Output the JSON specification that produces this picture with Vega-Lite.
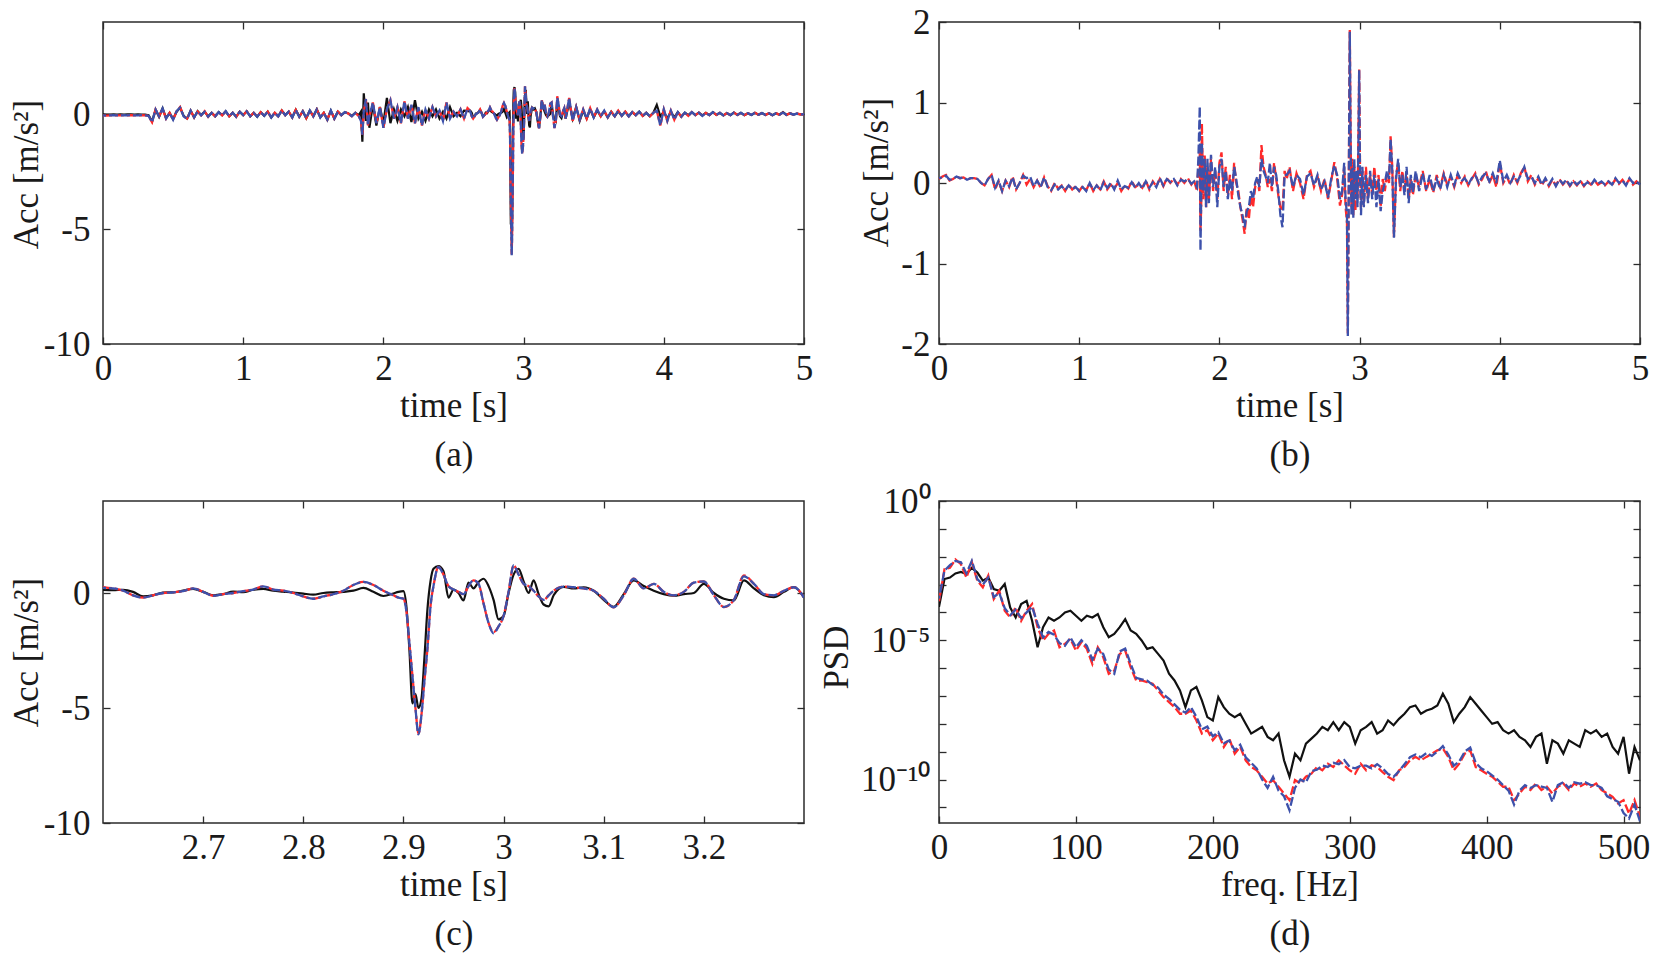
{
"$schema": "https://vega.github.io/schema/vega-lite/v6.json",
"padding": {"left": 8, "top": 4, "right": 5, "bottom": 5},
"config": {
 "font": "Liberation Serif",
 "view": {"stroke": "#2b2b2b", "strokeWidth": 1.5},
 "axis": {"labelFont": "Liberation Serif", "titleFont": "Liberation Serif", "labelFontSize": 35, "titleFontSize": 35, "titleFontWeight": "normal", "labelColor": "#1a1a1a", "titleColor": "#1a1a1a", "domain": false, "grid": false, "ticks": true, "tickSize": -7, "tickColor": "#2b2b2b", "tickWidth": 1.3, "labelFlush": false, "labelOverlap": false, "labelBound": false},
 "axisX": {"labelPadding": 14, "titlePadding": 2, "titleLineHeight": 49},
 "axisY": {"labelPadding": 16, "titlePadding": 6}
},
"datasets": {
"acc": [
{"t":0,"k":-0.02,"r":-0.06,"b":-0.06},{"t":0.025,"k":-0.03,"r":-0.07,"b":-0.07},{"t":0.05,"k":-0.03,"r":-0.06,"b":-0.06},{"t":0.075,"k":-0.02,"r":-0.05,"b":-0.05},{"t":0.1,"k":-0.03,"r":-0.06,"b":-0.06},{"t":0.125,"k":-0.02,"r":-0.06,"b":-0.06},{"t":0.15,"k":-0.03,"r":-0.05,"b":-0.05},{"t":0.175,"k":-0.02,"r":-0.06,"b":-0.06},{"t":0.2,"k":-0.02,"r":-0.05,"b":-0.05},{"t":0.225,"k":-0.03,"r":-0.06,"b":-0.06},{"t":0.25,"k":-0.02,"r":-0.06,"b":-0.06},{"t":0.275,"k":-0.03,"r":-0.05,"b":-0.05},{"t":0.3,"k":-0.03,"r":-0.06,"b":-0.06},{"t":0.325,"k":-0.05,"r":-0.08,"b":-0.08},
{"t":0.35,"k":-0.32,"r":-0.36,"b":-0.36},{"t":0.375,"k":0.18,"r":0.2,"b":0.2},{"t":0.4,"k":-0.12,"r":-0.1,"b":-0.1},{"t":0.425,"k":0.25,"r":0.22,"b":0.24},{"t":0.45,"k":-0.18,"r":-0.2,"b":-0.2},{"t":0.475,"k":0.05,"r":0.05,"b":0.05},{"t":0.5,"k":-0.22,"r":-0.25,"b":-0.25},{"t":0.525,"k":0.1,"r":0.12,"b":0.12},{"t":0.55,"k":0.28,"r":0.3,"b":0.28},{"t":0.575,"k":-0.08,"r":-0.1,"b":-0.1},{"t":0.6,"k":-0.2,"r":-0.2,"b":-0.22},{"t":0.625,"k":0.15,"r":0.14,"b":0.14},{"t":0.65,"k":-0.15,"r":-0.15,"b":-0.15},{"t":0.675,"k":0.12,"r":0.1,"b":0.12},{"t":0.7,"k":-0.05,"r":-0.06,"b":-0.06},{"t":0.725,"k":0.1,"r":0.12,"b":0.1},{"t":0.75,"k":-0.1,"r":-0.12,"b":-0.12},{"t":0.775,"k":0.05,"r":0.05,"b":0.05},{"t":0.8,"k":-0.1,"r":-0.1,"b":-0.1},{"t":0.825,"k":0.08,"r":0.08,"b":0.08},{"t":0.85,"k":-0.05,"r":-0.06,"b":-0.06},{"t":0.875,"k":0.12,"r":0.12,"b":0.12},{"t":0.9,"k":-0.1,"r":-0.1,"b":-0.1},{"t":0.925,"k":0.05,"r":0.06,"b":0.06},{"t":0.95,"k":-0.12,"r":-0.12,"b":-0.12},{"t":0.975,"k":0.1,"r":0.1,"b":0.1},
{"t":1,"k":-0.05,"r":-0.05,"b":-0.05},{"t":1.025,"k":0.12,"r":0.12,"b":0.12},{"t":1.05,"k":-0.1,"r":-0.1,"b":-0.1},{"t":1.075,"k":0.05,"r":0.05,"b":0.05},{"t":1.1,"k":-0.12,"r":-0.12,"b":-0.12},{"t":1.125,"k":0.08,"r":0.08,"b":0.08},{"t":1.15,"k":-0.08,"r":-0.08,"b":-0.08},{"t":1.175,"k":0.1,"r":0.1,"b":0.1},{"t":1.2,"k":-0.15,"r":-0.15,"b":-0.15},{"t":1.225,"k":0.05,"r":0.05,"b":0.05},{"t":1.25,"k":-0.1,"r":-0.1,"b":-0.1},{"t":1.275,"k":0.15,"r":0.15,"b":0.15},{"t":1.3,"k":-0.05,"r":-0.05,"b":-0.05},{"t":1.325,"k":0.1,"r":0.1,"b":0.1},{"t":1.35,"k":-0.15,"r":-0.15,"b":-0.15},{"t":1.375,"k":0.18,"r":0.18,"b":0.18},{"t":1.4,"k":-0.12,"r":-0.12,"b":-0.12},{"t":1.425,"k":0.12,"r":0.12,"b":0.12},{"t":1.45,"k":-0.18,"r":-0.18,"b":-0.18},{"t":1.475,"k":0.15,"r":0.15,"b":0.15},{"t":1.5,"k":-0.1,"r":-0.1,"b":-0.1},{"t":1.525,"k":0.2,"r":0.2,"b":0.2},{"t":1.55,"k":-0.15,"r":-0.15,"b":-0.15},{"t":1.575,"k":0.05,"r":0.05,"b":0.05},{"t":1.6,"k":-0.25,"r":-0.25,"b":-0.25},{"t":1.625,"k":0.15,"r":0.15,"b":0.15},{"t":1.65,"k":-0.2,"r":-0.2,"b":-0.2},{"t":1.675,"k":0.1,"r":0.1,"b":0.1},{"t":1.7,"k":-0.05,"r":-0.05,"b":-0.05},{"t":1.725,"k":0.08,"r":0.08,"b":0.08},{"t":1.75,"k":0.02,"r":0.02,"b":0.02},{"t":1.775,"k":-0.08,"r":-0.1,"b":-0.1},{"t":1.8,"k":0.05,"r":0.05,"b":0.05},{"t":1.825,"k":-0.05,"r":-0.1,"b":-0.1},
{"t":1.84,"k":0.1,"r":-0.3,"b":-0.3},{"t":1.85,"k":-1.2,"r":-0.9,"b":-0.9},{"t":1.86,"k":0.9,"r":0.1,"b":0.1},{"t":1.875,"k":-0.3,"r":0.65,"b":0.65},{"t":1.89,"k":0.5,"r":-0.5,"b":-0.5},{"t":1.9,"k":-0.6,"r":-0.1,"b":-0.1},{"t":1.925,"k":0.4,"r":0.5,"b":0.5},{"t":1.95,"k":-0.5,"r":-0.4,"b":-0.4},{"t":1.975,"k":0.3,"r":0.3,"b":0.3},{"t":2,"k":-0.4,"r":-0.6,"b":-0.6},{"t":2.025,"k":0.7,"r":0.2,"b":0.2},{"t":2.05,"k":-0.4,"r":0.6,"b":0.6},{"t":2.075,"k":0.2,"r":-0.2,"b":-0.2},{"t":2.1,"k":-0.3,"r":0.3,"b":0.3},{"t":2.125,"k":0.2,"r":-0.4,"b":-0.4},{"t":2.15,"k":-0.1,"r":0.55,"b":0.55},{"t":2.175,"k":0.3,"r":-0.2,"b":-0.2},{"t":2.2,"k":-0.35,"r":0.4,"b":0.4},{"t":2.225,"k":0.6,"r":-0.4,"b":-0.4},{"t":2.25,"k":-0.2,"r":0.3,"b":0.3},{"t":2.275,"k":0.1,"r":-0.5,"b":-0.5},{"t":2.3,"k":-0.3,"r":0.2,"b":0.2},{"t":2.325,"k":0.2,"r":-0.2,"b":-0.2},{"t":2.35,"k":-0.1,"r":0.3,"b":0.3},{"t":2.375,"k":0.2,"r":-0.1,"b":-0.1},{"t":2.4,"k":-0.2,"r":0.15,"b":0.15},{"t":2.425,"k":0.1,"r":-0.3,"b":-0.3},{"t":2.45,"k":-0.2,"r":0.5,"b":0.5},{"t":2.475,"k":0.3,"r":-0.2,"b":-0.2},{"t":2.5,"k":-0.1,"r":0.1,"b":0.1},{"t":2.525,"k":0.05,"r":-0.1,"b":-0.1},{"t":2.55,"k":-0.1,"r":0.2,"b":0.2},{"t":2.575,"k":0.15,"r":-0.2,"b":-0.2},
{"t":2.6,"k":0.14,"r":0.26,"b":0.22},{"t":2.61,"k":0.12,"r":0.2,"b":0.2},{"t":2.62,"k":0.14,"r":0.1,"b":0.1},{"t":2.63,"k":0.05,"r":-0.1,"b":-0.1},{"t":2.64,"k":-0.15,"r":-0.2,"b":-0.2},{"t":2.65,"k":-0.1,"r":-0.1,"b":-0.1},{"t":2.66,"k":0.02,"r":0,"b":0},{"t":2.67,"k":0.03,"r":0.03,"b":0.03},{"t":2.68,"k":0.1,"r":0.08,"b":0.08},{"t":2.69,"k":0.18,"r":0.2,"b":0.2},{"t":2.7,"k":0.05,"r":0.05,"b":0.05},{"t":2.71,"k":-0.1,"r":-0.12,"b":-0.12},{"t":2.72,"k":-0.05,"r":-0.05,"b":-0.05},{"t":2.73,"k":0.06,"r":0,"b":0},{"t":2.74,"k":0.04,"r":0.08,"b":0.08},{"t":2.75,"k":0.14,"r":0.15,"b":0.15},{"t":2.76,"k":0.18,"r":0.29,"b":0.29},{"t":2.77,"k":0.1,"r":0.15,"b":0.15},{"t":2.78,"k":0.06,"r":0.1,"b":0.1},{"t":2.79,"k":0.02,"r":0,"b":0},{"t":2.8,"k":-0.03,"r":-0.15,"b":-0.15},{"t":2.81,"k":-0.07,"r":-0.25,"b":-0.25},{"t":2.82,"k":0,"r":-0.15,"b":-0.15},{"t":2.83,"k":0.03,"r":-0.05,"b":-0.05},{"t":2.84,"k":0.05,"r":0.1,"b":0.1},{"t":2.85,"k":0.1,"r":0.35,"b":0.35},{"t":2.86,"k":0.22,"r":0.48,"b":0.48},{"t":2.87,"k":0.05,"r":0.35,"b":0.35},{"t":2.88,"k":-0.13,"r":0.1,"b":0.1},{"t":2.89,"k":-0.02,"r":-0.1,"b":-0.1},{"t":2.895,"k":0.05,"r":-0.2,"b":-0.2},{"t":2.9,"k":0.08,"r":-0.25,"b":-0.25},{"t":2.903,"k":-0.6,"r":-0.8,"b":-0.8},{"t":2.906,"k":-2.5,"r":-2.2,"b":-2.2},{"t":2.909,"k":-4.8,"r":-3.6,"b":-3.6},{"t":2.912,"k":-4.4,"r":-5,"b":-5},{"t":2.915,"k":-5,"r":-6.1,"b":-6.15},{"t":2.918,"k":-4.6,"r":-5.3,"b":-5.3},{"t":2.921,"k":-2.8,"r":-3.8,"b":-3.8},{"t":2.924,"k":-0.7,"r":-2.4,"b":-2.4},{"t":2.927,"k":0.5,"r":-0.6,"b":-0.6},{"t":2.93,"k":1.05,"r":0.3,"b":0.3},{"t":2.935,"k":1.17,"r":1.13,"b":1.13},{"t":2.94,"k":0.95,"r":0.8,"b":0.8},{"t":2.945,"k":-0.2,"r":0.3,"b":0.3},{"t":2.95,"k":0.15,"r":0.15,"b":0.15},{"t":2.955,"k":0,"r":0.05,"b":0.05},{"t":2.96,"k":-0.32,"r":-0.05,"b":-0.05},{"t":2.965,"k":0.45,"r":0.3,"b":0.3},{"t":2.97,"k":0.2,"r":0.55,"b":0.55},{"t":2.975,"k":0.48,"r":0.4,"b":0.4},{"t":2.98,"k":0.62,"r":-0.45,"b":-0.45},{"t":2.985,"k":0.3,"r":-1.3,"b":-1.3},{"t":2.99,"k":-0.3,"r":-1.7,"b":-1.75},{"t":2.995,"k":-1.15,"r":-1.45,"b":-1.45},{"t":3,"k":-1,"r":-1,"b":-1},{"t":3.005,"k":0,"r":0.05,"b":0.05},{"t":3.01,"k":0.8,"r":1.2,"b":1.2},{"t":3.015,"k":1.05,"r":0.8,"b":0.8},{"t":3.02,"k":0.5,"r":0.4,"b":0.4},{"t":3.025,"k":0,"r":0.3,"b":0.3},{"t":3.03,"k":0.55,"r":0.1,"b":0.1},{"t":3.035,"k":-0.05,"r":-0.15,"b":-0.15},{"t":3.04,"k":-0.5,"r":-0.3,"b":-0.3},{"t":3.045,"k":-0.58,"r":-0.1,"b":-0.1},{"t":3.05,"k":-0.1,"r":0.1,"b":0.1},{"t":3.06,"k":0.27,"r":0.28,"b":0.28},{"t":3.07,"k":0.2,"r":0.25,"b":0.25},{"t":3.08,"k":0.25,"r":0.2,"b":0.2},{"t":3.09,"k":0.1,"r":0.1,"b":0.1},{"t":3.1,"k":-0.3,"r":-0.25,"b":-0.25},{"t":3.11,"k":-0.6,"r":-0.62,"b":-0.62},{"t":3.12,"k":-0.05,"r":-0.1,"b":-0.1},{"t":3.13,"k":0.55,"r":0.62,"b":0.62},{"t":3.14,"k":0.3,"r":0.2,"b":0.2},{"t":3.15,"k":0.1,"r":0.4,"b":0.4},{"t":3.16,"k":-0.05,"r":0.05,"b":0.05},{"t":3.17,"k":-0.12,"r":-0.1,"b":-0.1},{"t":3.18,"k":-0.05,"r":0.05,"b":0.05},{"t":3.19,"k":0,"r":0.45,"b":0.45},{"t":3.2,"k":0.4,"r":0.5,"b":0.5},{"t":3.21,"k":0,"r":-0.1,"b":-0.1},{"t":3.22,"k":-0.25,"r":-0.61,"b":-0.61},{"t":3.23,"k":-0.32,"r":-0.3,"b":-0.3},{"t":3.24,"k":0.55,"r":0.77,"b":0.72},{"t":3.25,"k":0.2,"r":0.4,"b":0.4},{"t":3.26,"k":-0.1,"r":-0.05,"b":-0.05},{"t":3.27,"k":-0.18,"r":-0.1,"b":-0.1},{"t":3.28,"k":0.05,"r":0.1,"b":0.1},{"t":3.29,"k":0.26,"r":0.25,"b":0.25},{"t":3.3,"k":-0.2,"r":-0.2,"b":-0.2},
{"t":3.325,"k":0.5,"r":0.7,"b":0.7},{"t":3.35,"k":-0.2,"r":-0.3,"b":-0.3},{"t":3.375,"k":0.3,"r":0.3,"b":0.3},{"t":3.4,"k":-0.3,"r":-0.25,"b":-0.25},{"t":3.425,"k":0.15,"r":0.2,"b":0.2},{"t":3.45,"k":-0.2,"r":-0.2,"b":-0.2},{"t":3.475,"k":0.2,"r":0.25,"b":0.25},{"t":3.5,"k":-0.15,"r":-0.15,"b":-0.15},{"t":3.525,"k":0.15,"r":0.2,"b":0.2},{"t":3.55,"k":-0.1,"r":-0.1,"b":-0.1},{"t":3.575,"k":0.12,"r":0.15,"b":0.15},{"t":3.6,"k":-0.15,"r":-0.15,"b":-0.15},{"t":3.625,"k":0.1,"r":0.1,"b":0.1},{"t":3.65,"k":-0.1,"r":-0.1,"b":-0.1},{"t":3.675,"k":0.12,"r":0.15,"b":0.15},{"t":3.7,"k":-0.08,"r":-0.08,"b":-0.08},{"t":3.725,"k":0.1,"r":0.1,"b":0.1},{"t":3.75,"k":-0.1,"r":-0.1,"b":-0.1},{"t":3.775,"k":0.08,"r":0.08,"b":0.08},{"t":3.8,"k":-0.05,"r":-0.05,"b":-0.05},{"t":3.825,"k":0.1,"r":0.1,"b":0.1},{"t":3.85,"k":-0.08,"r":-0.08,"b":-0.08},{"t":3.875,"k":0.05,"r":0.05,"b":0.05},{"t":3.9,"k":-0.1,"r":-0.1,"b":-0.1},{"t":3.925,"k":0.05,"r":0.05,"b":0.05},{"t":3.95,"k":0.4,"r":0.15,"b":0.15},{"t":3.975,"k":-0.1,"r":-0.5,"b":-0.5},{"t":4,"k":0.1,"r":0.2,"b":0.2},{"t":4.025,"k":-0.2,"r":-0.3,"b":-0.3},{"t":4.05,"k":0.1,"r":0.15,"b":0.15},{"t":4.075,"k":-0.15,"r":-0.25,"b":-0.25},{"t":4.1,"k":0.08,"r":0.08,"b":0.08},{"t":4.125,"k":-0.12,"r":-0.12,"b":-0.12},{"t":4.15,"k":0.06,"r":0.06,"b":0.06},{"t":4.175,"k":-0.05,"r":-0.08,"b":-0.08},{"t":4.2,"k":0.08,"r":0.08,"b":0.08},{"t":4.225,"k":-0.05,"r":-0.05,"b":-0.05},{"t":4.25,"k":0.06,"r":0.06,"b":0.06},{"t":4.275,"k":-0.06,"r":-0.08,"b":-0.08},{"t":4.3,"k":0.05,"r":0.05,"b":0.05},{"t":4.325,"k":-0.05,"r":-0.05,"b":-0.05},{"t":4.35,"k":0.08,"r":0.08,"b":0.08},{"t":4.375,"k":-0.04,"r":-0.04,"b":-0.04},{"t":4.4,"k":0.05,"r":0.05,"b":0.05},{"t":4.425,"k":-0.06,"r":-0.06,"b":-0.06},{"t":4.45,"k":0.04,"r":0.04,"b":0.04},{"t":4.475,"k":-0.05,"r":-0.05,"b":-0.05},{"t":4.5,"k":0.06,"r":0.06,"b":0.06},{"t":4.525,"k":-0.04,"r":-0.04,"b":-0.04},{"t":4.55,"k":0.05,"r":0.05,"b":0.05},{"t":4.575,"k":-0.05,"r":-0.05,"b":-0.05},{"t":4.6,"k":0.03,"r":0.03,"b":0.03},{"t":4.625,"k":-0.04,"r":-0.04,"b":-0.04},{"t":4.65,"k":0.05,"r":0.05,"b":0.05},{"t":4.675,"k":-0.03,"r":-0.03,"b":-0.03},{"t":4.7,"k":0.04,"r":0.04,"b":0.04},{"t":4.725,"k":-0.04,"r":-0.04,"b":-0.04},{"t":4.75,"k":0.03,"r":0.03,"b":0.03},{"t":4.775,"k":-0.05,"r":-0.05,"b":-0.05},{"t":4.8,"k":0.03,"r":0.03,"b":0.03},{"t":4.825,"k":-0.03,"r":-0.03,"b":-0.03},{"t":4.85,"k":0.08,"r":0.06,"b":0.06},{"t":4.875,"k":-0.04,"r":-0.04,"b":-0.04},{"t":4.9,"k":0.03,"r":0.03,"b":0.03},{"t":4.925,"k":-0.03,"r":-0.03,"b":-0.03},{"t":4.95,"k":0.02,"r":0.02,"b":0.02},{"t":4.975,"k":-0.02,"r":-0.02,"b":-0.02},{"t":5,"k":-0.01,"r":-0.01,"b":-0.01}
],
"accb": [
{"t":0,"r":0.05,"b":0.06},{"t":0.025,"r":0.08,"b":0.07},{"t":0.05,"r":0.1,"b":0.09},{"t":0.075,"r":0.03,"b":0.04},{"t":0.1,"r":0.05,"b":0.05},{"t":0.125,"r":0.08,"b":0.08},{"t":0.15,"r":0.06,"b":0.06},{"t":0.175,"r":0.07,"b":0.07},{"t":0.2,"r":0.04,"b":0.04},{"t":0.225,"r":0.06,"b":0.06},{"t":0.25,"r":0.06,"b":0.06},{"t":0.275,"r":0.05,"b":0.05},{"t":0.3,"r":0,"b":0},{"t":0.325,"r":-0.03,"b":-0.03},{"t":0.35,"r":0.05,"b":0.05},{"t":0.375,"r":0.1,"b":0.1},{"t":0.4,"r":-0.08,"b":-0.06},{"t":0.425,"r":0.02,"b":0.03},{"t":0.45,"r":-0.1,"b":-0.1},{"t":0.475,"r":0.03,"b":0.03},{"t":0.5,"r":-0.05,"b":-0.04},{"t":0.525,"r":0.08,"b":0.07},{"t":0.55,"r":-0.08,"b":-0.08},{"t":0.575,"r":0,"b":0},{"t":0.6,"r":0.1,"b":0.09},{"t":0.625,"r":-0.02,"b":0.06},{"t":0.65,"r":0.05,"b":0.08},{"t":0.675,"r":-0.05,"b":-0.04},{"t":0.7,"r":0.03,"b":0.03},{"t":0.725,"r":-0.06,"b":-0.05},{"t":0.75,"r":0.07,"b":0.07},{"t":0.775,"r":-0.04,"b":-0.05},{"t":0.8,"r":-0.1,"b":-0.09},{"t":0.825,"r":0,"b":-0.02},{"t":0.85,"r":-0.07,"b":-0.08},{"t":0.875,"r":-0.03,"b":-0.04},{"t":0.9,"r":-0.1,"b":-0.09},{"t":0.925,"r":-0.02,"b":-0.03},{"t":0.95,"r":-0.08,"b":-0.08},{"t":0.975,"r":-0.04,"b":-0.05},
{"t":1,"r":-0.1,"b":-0.1},{"t":1.025,"r":-0.04,"b":-0.05},{"t":1.05,"r":-0.09,"b":-0.1},{"t":1.075,"r":0,"b":0},{"t":1.1,"r":-0.1,"b":-0.09},{"t":1.125,"r":-0.03,"b":-0.03},{"t":1.15,"r":-0.08,"b":-0.09},{"t":1.175,"r":0.02,"b":0.01},{"t":1.2,"r":-0.08,"b":-0.06},{"t":1.225,"r":-0.02,"b":0},{"t":1.25,"r":-0.07,"b":-0.08},{"t":1.275,"r":0,"b":0.03},{"t":1.3,"r":-0.1,"b":-0.08},{"t":1.325,"r":-0.03,"b":-0.04},{"t":1.35,"r":-0.07,"b":-0.06},{"t":1.375,"r":0.02,"b":0.01},{"t":1.4,"r":-0.05,"b":-0.06},{"t":1.425,"r":-0.02,"b":0},{"t":1.45,"r":-0.06,"b":-0.07},{"t":1.475,"r":0.03,"b":0.02},{"t":1.5,"r":-0.08,"b":-0.06},{"t":1.525,"r":0.02,"b":0.01},{"t":1.55,"r":-0.04,"b":-0.05},{"t":1.575,"r":0.05,"b":0.06},{"t":1.6,"r":-0.04,"b":-0.03},{"t":1.625,"r":0.06,"b":0.05},{"t":1.65,"r":0,"b":0.01},{"t":1.675,"r":0.05,"b":0.05},{"t":1.7,"r":-0.02,"b":-0.03},{"t":1.725,"r":0.05,"b":0.04},{"t":1.75,"r":0,"b":0.02},{"t":1.775,"r":0.06,"b":0.05},{"t":1.8,"r":-0.02,"b":-0.01},{"t":1.82,"r":0.03,"b":0.02},{"t":1.84,"r":-0.1,"b":-0.05},
{"t":1.85,"r":0.2,"b":0.3},{"t":1.86,"r":0.4,"b":0.95},{"t":1.865,"r":-0.6,"b":-0.84},{"t":1.87,"r":-0.3,"b":-0.2},{"t":1.875,"r":0.74,"b":0.5},{"t":1.885,"r":-0.2,"b":-0.1},{"t":1.895,"r":0.35,"b":0.3},{"t":1.905,"r":-0.3,"b":-0.3},{"t":1.915,"r":0.2,"b":0.3},{"t":1.925,"r":-0.2,"b":-0.25},{"t":1.94,"r":0.3,"b":0.35},{"t":1.955,"r":-0.1,"b":-0.05},{"t":1.97,"r":0.15,"b":0.2},{"t":1.985,"r":-0.2,"b":-0.3},{"t":2,"r":0.25,"b":0.2},{"t":2.015,"r":0.38,"b":0.3},{"t":2.03,"r":-0.1,"b":-0.05},{"t":2.045,"r":0.2,"b":0.15},{"t":2.06,"r":-0.15,"b":-0.2},{"t":2.075,"r":0.1,"b":0.05},{"t":2.09,"r":-0.2,"b":-0.1},{"t":2.105,"r":0.25,"b":0.2},{"t":2.12,"r":0,"b":0.05},{"t":2.135,"r":-0.1,"b":-0.15},{"t":2.15,"r":-0.3,"b":-0.3},{"t":2.165,"r":-0.45,"b":-0.4},{"t":2.18,"r":-0.63,"b":-0.55},{"t":2.195,"r":-0.3,"b":-0.35},{"t":2.21,"r":-0.45,"b":-0.3},{"t":2.225,"r":-0.15,"b":-0.1},{"t":2.24,"r":-0.3,"b":-0.2},{"t":2.255,"r":-0.05,"b":0},{"t":2.27,"r":0.05,"b":0.08},{"t":2.285,"r":-0.1,"b":-0.05},{"t":2.3,"r":0.47,"b":0.3},{"t":2.315,"r":0.2,"b":0.15},{"t":2.33,"r":0.1,"b":0.08},{"t":2.345,"r":-0.05,"b":0},{"t":2.36,"r":0.05,"b":0.25},{"t":2.375,"r":-0.1,"b":-0.05},{"t":2.39,"r":0.25,"b":0.2},{"t":2.405,"r":0.05,"b":0.1},{"t":2.42,"r":-0.15,"b":-0.1},{"t":2.435,"r":-0.3,"b":-0.4},{"t":2.45,"r":-0.35,"b":-0.55},{"t":2.465,"r":0.15,"b":0.1},{"t":2.48,"r":0.05,"b":0.1},{"t":2.5,"r":0.2,"b":0.15},{"t":2.525,"r":-0.1,"b":-0.05},{"t":2.55,"r":0.12,"b":0.1},{"t":2.575,"r":0,"b":0.05},{"t":2.6,"r":-0.2,"b":-0.15},{"t":2.625,"r":0.1,"b":0.08},{"t":2.65,"r":0.15,"b":0.12},{"t":2.675,"r":-0.05,"b":-0.03},{"t":2.7,"r":0.08,"b":0.1},{"t":2.725,"r":-0.1,"b":-0.08},{"t":2.75,"r":0.05,"b":0.02},{"t":2.775,"r":-0.2,"b":-0.18},{"t":2.8,"r":0.05,"b":0.08},{"t":2.82,"r":0.26,"b":0.22},{"t":2.84,"r":0.05,"b":0.1},{"t":2.86,"r":-0.28,"b":-0.2},{"t":2.875,"r":-0.15,"b":-0.1},{"t":2.89,"r":0.2,"b":0.25},{"t":2.9,"r":-0.3,"b":-0.2},{"t":2.91,"r":-0.5,"b":-0.4},{"t":2.916,"r":-1.87,"b":-1.9},{"t":2.922,"r":-0.2,"b":-0.3},{"t":2.93,"r":1.9,"b":1.88},{"t":2.936,"r":0.6,"b":0.5},{"t":2.942,"r":-0.3,"b":-0.4},{"t":2.948,"r":0.3,"b":0.2},{"t":2.955,"r":-0.4,"b":-0.43},{"t":2.962,"r":0.2,"b":0.3},{"t":2.97,"r":-0.35,"b":-0.2},{"t":2.978,"r":0.1,"b":0.15},{"t":2.985,"r":-0.2,"b":-0.3},{"t":2.991,"r":0.5,"b":0.4},{"t":2.997,"r":1.42,"b":1.4},
{"t":3.003,"r":0.2,"b":0.1},{"t":3.01,"r":-0.3,"b":-0.4},{"t":3.02,"r":0.15,"b":0.2},{"t":3.03,"r":-0.25,"b":-0.3},{"t":3.045,"r":0.2,"b":0.1},{"t":3.06,"r":-0.2,"b":-0.25},{"t":3.075,"r":0.1,"b":0.15},{"t":3.09,"r":-0.15,"b":-0.2},{"t":3.105,"r":0.2,"b":0.1},{"t":3.12,"r":-0.1,"b":-0.3},{"t":3.135,"r":0.1,"b":0.05},{"t":3.15,"r":-0.3,"b":-0.35},{"t":3.165,"r":0.05,"b":-0.1},{"t":3.18,"r":-0.1,"b":0},{"t":3.195,"r":0.1,"b":0.15},{"t":3.21,"r":0,"b":0.05},{"t":3.221,"r":0.58,"b":0.55},{"t":3.233,"r":0.2,"b":0.15},{"t":3.245,"r":-0.67,"b":-0.68},{"t":3.26,"r":0.1,"b":0.05},{"t":3.275,"r":0.25,"b":0.3},{"t":3.29,"r":-0.1,"b":-0.05},{"t":3.305,"r":0.15,"b":0.1},{"t":3.32,"r":-0.1,"b":-0.15},{"t":3.335,"r":0.1,"b":0.2},{"t":3.35,"r":-0.2,"b":-0.25},{"t":3.365,"r":0.05,"b":0.1},{"t":3.38,"r":-0.15,"b":-0.12},{"t":3.4,"r":0.1,"b":0.15},{"t":3.425,"r":-0.05,"b":-0.1},{"t":3.45,"r":0.15,"b":0.12},{"t":3.475,"r":-0.1,"b":-0.08},{"t":3.5,"r":0.05,"b":0.1},{"t":3.525,"r":-0.12,"b":-0.1},{"t":3.55,"r":0.1,"b":0.05},{"t":3.575,"r":-0.05,"b":-0.08},{"t":3.6,"r":0.12,"b":0.1},{"t":3.625,"r":-0.02,"b":-0.05},{"t":3.65,"r":0.08,"b":0.1},{"t":3.675,"r":-0.05,"b":-0.03},{"t":3.7,"r":0.1,"b":0.12},{"t":3.725,"r":0,"b":0.02},{"t":3.75,"r":0.08,"b":0.06},{"t":3.775,"r":-0.03,"b":-0.02},{"t":3.8,"r":0.05,"b":0.06},{"t":3.825,"r":0.12,"b":0.1},{"t":3.85,"r":-0.02,"b":0},{"t":3.875,"r":0.05,"b":0.08},{"t":3.9,"r":0.15,"b":0.12},{"t":3.925,"r":0,"b":0.02},{"t":3.95,"r":0.1,"b":0.12},{"t":3.975,"r":-0.05,"b":0},
{"t":4,"r":0.25,"b":0.28},{"t":4.025,"r":0,"b":0.02},{"t":4.05,"r":0.08,"b":0.1},{"t":4.075,"r":-0.02,"b":0},{"t":4.1,"r":0.1,"b":0.08},{"t":4.125,"r":0,"b":0.02},{"t":4.15,"r":0.12,"b":0.1},{"t":4.175,"r":0.2,"b":0.2},{"t":4.2,"r":0.02,"b":0.05},{"t":4.225,"r":0.1,"b":0.08},{"t":4.25,"r":-0.02,"b":0},{"t":4.275,"r":0.06,"b":0.08},{"t":4.3,"r":-0.03,"b":-0.02},{"t":4.325,"r":0.05,"b":0.06},{"t":4.35,"r":-0.04,"b":-0.02},{"t":4.375,"r":0.04,"b":0.05},{"t":4.4,"r":-0.03,"b":-0.04},{"t":4.425,"r":0.05,"b":0.04},{"t":4.45,"r":-0.02,"b":-0.01},{"t":4.475,"r":0.03,"b":0.04},{"t":4.5,"r":-0.04,"b":-0.03},{"t":4.525,"r":0.02,"b":0.03},{"t":4.55,"r":-0.03,"b":-0.02},{"t":4.575,"r":0.03,"b":0.02},{"t":4.6,"r":-0.04,"b":-0.03},{"t":4.625,"r":0.02,"b":0.01},{"t":4.65,"r":-0.02,"b":-0.03},{"t":4.675,"r":0.03,"b":0.04},{"t":4.7,"r":-0.02,"b":-0.01},{"t":4.725,"r":0.01,"b":0.02},{"t":4.75,"r":-0.03,"b":-0.02},{"t":4.775,"r":0.02,"b":0.02},{"t":4.8,"r":-0.03,"b":-0.02},{"t":4.825,"r":0.05,"b":0.06},{"t":4.85,"r":-0.01,"b":0},{"t":4.875,"r":0.04,"b":0.03},{"t":4.9,"r":-0.02,"b":-0.03},{"t":4.925,"r":0.05,"b":0.06},{"t":4.95,"r":-0.02,"b":0},{"t":4.975,"r":0.02,"b":0.02},{"t":5,"r":-0.02,"b":-0.02}
],
"psd": [
{"f":0,"k":1.58e-4,"r":2.51e-4,"b":3.16e-4},{"f":4,"k":1.58e-3,"r":3.55e-3,"b":3.16e-3},{"f":8,"k":1.78e-3,"r":3.98e-3,"b":5.0e-3},{"f":12,"k":2.51e-3,"r":7.94e-3,"b":7.08e-3},{"f":16,"k":2.82e-3,"r":5.4e-3,"b":6.3e-3},{"f":20,"k":2.4e-3,"r":1.78e-3,"b":2.51e-3},{"f":24,"k":3.98e-3,"r":6.3e-3,"b":7.08e-3},{"f":28,"k":2.7e-3,"r":1.38e-3,"b":1.58e-3},{"f":32,"k":1.38e-3,"r":7.94e-4,"b":1.0e-3},{"f":36,"k":1.78e-3,"r":2.1e-3,"b":1.78e-3},{"f":40,"k":6.9e-4,"r":3.0e-4,"b":3.55e-4},{"f":44,"k":6.0e-4,"r":6.0e-4,"b":5.0e-4},{"f":48,"k":1.05e-3,"r":1.15e-4,"b":1.41e-4},{"f":52,"k":1.5e-4,"r":6.6e-5,"b":7.94e-5},{"f":56,"k":6.6e-5,"r":1.51e-4,"b":1.26e-4},{"f":60,"k":2.0e-4,"r":5.0e-5,"b":6.3e-5},{"f":64,"k":2.6e-4,"r":1.15e-4,"b":1.0e-4},{"f":68,"k":5.0e-5,"r":2.0e-4,"b":1.58e-4},{"f":72,"k":5.6e-6,"r":2.95e-5,"b":3.98e-5},{"f":76,"k":2.95e-5,"r":9.8e-6,"b":1.26e-5},{"f":80,"k":6.6e-5,"r":1.7e-5,"b":2.0e-5},{"f":84,"k":5.0e-5,"r":2.24e-5,"b":1.58e-5},{"f":88,"k":6.6e-5,"r":5.6e-6,"b":7.94e-6},{"f":92,"k":1.0e-4,"r":7.4e-6,"b":6.3e-6},{"f":96,"k":1.15e-4,"r":1.12e-5,"b":1.26e-5},{"f":100,"k":7.6e-5,"r":4.27e-6,"b":5.6e-6},{"f":104,"k":5.0e-5,"r":8.5e-6,"b":1.0e-5},{"f":108,"k":7.6e-5,"r":4.9e-6,"b":6.3e-6},{"f":112,"k":6.6e-5,"r":1.41e-6,"b":2.0e-6},{"f":116,"k":8.7e-5,"r":5.6e-6,"b":5.0e-6},{"f":120,"k":2.95e-5,"r":2.45e-6,"b":3.16e-6},{"f":124,"k":1.29e-5,"r":6.3e-7,"b":8.9e-7},{"f":128,"k":1.7e-5,"r":8.1e-7,"b":6.3e-7},{"f":132,"k":2.95e-5,"r":3.24e-6,"b":3.98e-6},{"f":136,"k":5.75e-5,"r":4.27e-6,"b":5.0e-6},{"f":140,"k":2.24e-5,"r":1.07e-6,"b":1.41e-6},{"f":144,"k":1.7e-5,"r":3.6e-7,"b":4.47e-7},{"f":148,"k":9.8e-6,"r":3.6e-7,"b":3.98e-7},{"f":152,"k":4.9e-6,"r":3.16e-7,"b":3.55e-7},{"f":156,"k":5.6e-6,"r":2.75e-7,"b":2.51e-7},{"f":160,"k":3.24e-6,"r":1.58e-7,"b":2.0e-7},{"f":164,"k":1.86e-6,"r":9.1e-8,"b":1.12e-7},{"f":168,"k":6.3e-7,"r":6.0e-8,"b":7.94e-8},{"f":172,"k":3.6e-7,"r":3.98e-8,"b":5.0e-8},{"f":176,"k":1.58e-7,"r":2.3e-8,"b":3.16e-8},{"f":180,"k":3.98e-8,"r":2.3e-8,"b":2.51e-8},{"f":184,"k":1.58e-7,"r":3.0e-8,"b":3.98e-8},{"f":188,"k":2.1e-7,"r":1.32e-8,"b":1.78e-8},{"f":192,"k":6.9e-8,"r":4.47e-9,"b":6.3e-9},{"f":196,"k":1.74e-8,"r":5.9e-9,"b":7.94e-9},{"f":200,"k":1.32e-8,"r":2.57e-9,"b":3.55e-9},{"f":204,"k":9.1e-8,"r":4.47e-9,"b":5.0e-9},{"f":208,"k":3.98e-8,"r":1.48e-9,"b":2.0e-9},{"f":212,"k":2.3e-8,"r":2.95e-9,"b":2.51e-9},{"f":216,"k":1.74e-8,"r":8.5e-10,"b":1.12e-9},{"f":220,"k":2.3e-8,"r":1.48e-9,"b":1.78e-9},{"f":224,"k":1.0e-8,"r":4.9e-10,"b":6.3e-10},{"f":228,"k":4.47e-9,"r":2.82e-10,"b":3.98e-10},{"f":232,"k":5.9e-9,"r":2.14e-10,"b":2.51e-10},{"f":236,"k":7.8e-9,"r":1.26e-10,"b":1.0e-10},{"f":240,"k":3.4e-9,"r":7.2e-11,"b":5.0e-11},{"f":244,"k":2.57e-9,"r":9.5e-11,"b":1.26e-10},{"f":248,"k":4.47e-9,"r":5.5e-11,"b":3.98e-11},{"f":252,"k":4.9e-10,"r":3.16e-11,"b":2.51e-11},{"f":256,"k":1.26e-10,"r":1.82e-11,"b":7.94e-12},{"f":260,"k":8.5e-10,"r":9.5e-11,"b":5.0e-11},{"f":264,"k":4.9e-10,"r":7.2e-11,"b":1.0e-10},{"f":268,"k":1.95e-9,"r":1.26e-10,"b":7.94e-11},{"f":272,"k":2.95e-9,"r":1.62e-10,"b":2.0e-10},{"f":276,"k":4.47e-9,"r":2.82e-10,"b":2.24e-10},{"f":280,"k":7.8e-9,"r":2.14e-10,"b":3.16e-10},{"f":284,"k":5.9e-9,"r":3.7e-10,"b":2.82e-10},{"f":288,"k":1.15e-8,"r":2.82e-10,"b":3.98e-10},{"f":292,"k":5.9e-9,"r":4.9e-10,"b":3.55e-10},{"f":296,"k":1.15e-8,"r":3.24e-10,"b":5.0e-10},{"f":300,"k":7.8e-9,"r":2.14e-10,"b":2.82e-10},{"f":304,"k":1.95e-9,"r":1.62e-10,"b":2.51e-10},{"f":308,"k":5.9e-9,"r":3.7e-10,"b":3.16e-10},{"f":312,"k":7.8e-9,"r":2.14e-10,"b":3.16e-10},{"f":316,"k":1.15e-8,"r":3.24e-10,"b":2.51e-10},{"f":320,"k":4.47e-9,"r":2.82e-10,"b":3.55e-10},{"f":324,"k":5.9e-9,"r":1.86e-10,"b":2.51e-10},{"f":328,"k":1.32e-8,"r":1.26e-10,"b":1.58e-10},{"f":332,"k":8.9e-9,"r":9.5e-11,"b":1.26e-10},{"f":336,"k":1.51e-8,"r":2.14e-10,"b":2.0e-10},{"f":340,"k":2.3e-8,"r":2.82e-10,"b":3.55e-10},{"f":344,"k":3.98e-8,"r":4.9e-10,"b":6.3e-10},{"f":348,"k":4.57e-8,"r":6.5e-10,"b":7.94e-10},{"f":352,"k":2.3e-8,"r":4.9e-10,"b":6.3e-10},{"f":356,"k":3.0e-8,"r":6.5e-10,"b":8.9e-10},{"f":360,"k":3.47e-8,"r":8.5e-10,"b":7.08e-10},{"f":364,"k":4.57e-8,"r":1.12e-9,"b":1.0e-9},{"f":368,"k":1.2e-7,"r":1.29e-9,"b":1.58e-9},{"f":372,"k":5.25e-8,"r":6.5e-10,"b":7.94e-10},{"f":376,"k":1.15e-8,"r":2.14e-10,"b":3.16e-10},{"f":380,"k":2.3e-8,"r":3.7e-10,"b":4.47e-10},{"f":384,"k":3.98e-8,"r":8.5e-10,"b":1.0e-9},{"f":388,"k":9.1e-8,"r":1.12e-9,"b":1.41e-9},{"f":392,"k":5.25e-8,"r":2.82e-10,"b":3.98e-10},{"f":396,"k":3.0e-8,"r":2.14e-10,"b":2.51e-10},{"f":400,"k":1.74e-8,"r":1.62e-10,"b":2.0e-10},{"f":404,"k":1.0e-8,"r":1.26e-10,"b":1.41e-10},{"f":408,"k":1.15e-8,"r":8.3e-11,"b":1.0e-10},{"f":412,"k":5.9e-9,"r":5.5e-11,"b":6.3e-11},{"f":416,"k":4.47e-9,"r":5.5e-11,"b":3.98e-11},{"f":420,"k":5.9e-9,"r":1.82e-11,"b":1.26e-11},{"f":424,"k":3.4e-9,"r":3.16e-11,"b":3.98e-11},{"f":428,"k":2.57e-9,"r":5.5e-11,"b":6.3e-11},{"f":432,"k":1.48e-9,"r":4.2e-11,"b":5.0e-11},{"f":436,"k":3.4e-9,"r":7.2e-11,"b":6.3e-11},{"f":440,"k":4.47e-9,"r":4.2e-11,"b":5.6e-11},{"f":444,"k":3.7e-10,"r":5.5e-11,"b":5.0e-11},{"f":448,"k":2.57e-9,"r":3.16e-11,"b":1.58e-11},{"f":452,"k":1.95e-9,"r":5.5e-11,"b":6.3e-11},{"f":456,"k":8.5e-10,"r":7.2e-11,"b":7.94e-11},{"f":460,"k":2.57e-9,"r":4.2e-11,"b":5.0e-11},{"f":464,"k":1.95e-9,"r":7.2e-11,"b":7.94e-11},{"f":468,"k":1.48e-9,"r":5.5e-11,"b":7.08e-11},{"f":472,"k":5.9e-9,"r":7.2e-11,"b":7.94e-11},{"f":476,"k":4.47e-9,"r":5.5e-11,"b":6.3e-11},{"f":480,"k":5.9e-9,"r":7.2e-11,"b":6.3e-11},{"f":484,"k":3.4e-9,"r":4.2e-11,"b":5.0e-11},{"f":488,"k":4.47e-9,"r":3.16e-11,"b":2.51e-11},{"f":492,"k":1.48e-9,"r":2.4e-11,"b":2.0e-11},{"f":496,"k":8.5e-10,"r":1.38e-11,"b":1.58e-11},{"f":500,"k":3.4e-9,"r":1.82e-11,"b":6.3e-12},{"f":504,"k":1.62e-10,"r":6.0e-12,"b":3.98e-12},{"f":508,"k":1.48e-9,"r":1.82e-11,"b":1.26e-11},{"f":512,"k":4.9e-10,"r":4.57e-12,"b":3.16e-12}
]
},
"bounds": "flush",
"columns": 2,
"spacing": {"row": 157, "column": 135},
"concat": [
 {"width": 701, "height": 322, "data": {"name": "acc"},
  "resolve": {"axis": {"x": "independent", "y": "independent"}},
  "layer": [
   {"mark": {"type": "line", "color": "#111111", "strokeWidth": 2.2},
    "encoding": {"x": {"field": "t", "type": "quantitative", "scale": {"domain": [0, 5], "nice": false, "zero": false}, "axis": {"orient": "bottom", "values": [0, 1, 2, 3, 4, 5], "title": ["time [s]", "(a)"]}},
                 "y": {"field": "k", "type": "quantitative", "scale": {"domain": [-10, 4], "nice": false, "zero": false}, "axis": {"orient": "left", "values": [-10, -5, 0], "title": "Acc [m/s²]", "labelPadding": 20, "titlePadding": -1, "titleY": 152, "labelExpr": "datum.value < 0 ? '-' + (-datum.value) : '' + datum.value"}}}},
   {"mark": {"type": "line", "color": "#ff2a2a", "strokeWidth": 2.3, "strokeDash": [9, 3]},
    "encoding": {"x": {"field": "t", "type": "quantitative", "scale": {"domain": [0, 5], "nice": false, "zero": false}, "axis": {"orient": "top", "values": [0, 1, 2, 3, 4, 5], "labels": false, "title": null}},
                 "y": {"field": "r", "type": "quantitative", "scale": {"domain": [-10, 4], "nice": false, "zero": false}, "axis": {"orient": "right", "values": [-10, -5, 0], "labels": false, "title": null}}}},
   {"mark": {"type": "line", "color": "#3d51ab", "strokeWidth": 2.3, "strokeDash": [9, 3], "strokeDashOffset": 6},
    "encoding": {"x": {"field": "t", "type": "quantitative", "scale": {"domain": [0, 5], "nice": false, "zero": false}, "axis": null},
                 "y": {"field": "b", "type": "quantitative", "scale": {"domain": [-10, 4], "nice": false, "zero": false}, "axis": null}}}
  ]},
 {"width": 701, "height": 322, "data": {"name": "accb"},
  "resolve": {"axis": {"x": "independent", "y": "independent"}},
  "layer": [
   {"mark": {"type": "line", "color": "#ff2a2a", "strokeWidth": 2.3, "strokeDash": [9, 3]},
    "encoding": {"x": {"field": "t", "type": "quantitative", "scale": {"domain": [0, 5], "nice": false, "zero": false}, "axis": {"orient": "bottom", "values": [0, 1, 2, 3, 4, 5], "title": ["time [s]", "(b)"]}},
                 "y": {"field": "r", "type": "quantitative", "scale": {"domain": [-2, 2], "nice": false, "zero": false}, "axis": {"orient": "left", "values": [-2, -1, 0, 1, 2], "title": "Acc [m/s²]", "titleY": 150, "labelExpr": "datum.value < 0 ? '-' + (-datum.value) : '' + datum.value"}}}},
   {"mark": {"type": "line", "color": "#3d51ab", "strokeWidth": 2.3, "strokeDash": [9, 3], "strokeDashOffset": 6},
    "encoding": {"x": {"field": "t", "type": "quantitative", "scale": {"domain": [0, 5], "nice": false, "zero": false}, "axis": {"orient": "top", "values": [0, 1, 2, 3, 4, 5], "labels": false, "title": null}},
                 "y": {"field": "b", "type": "quantitative", "scale": {"domain": [-2, 2], "nice": false, "zero": false}, "axis": {"orient": "right", "values": [-2, -1, 0, 1, 2], "labels": false, "title": null}}}}
  ]},
 {"width": 701, "height": 322, "data": {"name": "acc"},
  "transform": [{"filter": "datum.t >= 2.6 && datum.t <= 3.3"}],
  "resolve": {"axis": {"x": "independent", "y": "independent"}},
  "layer": [
   {"mark": {"type": "line", "color": "#111111", "strokeWidth": 2.2, "interpolate": "monotone", "clip": true},
    "encoding": {"x": {"field": "t", "type": "quantitative", "scale": {"domain": [2.6, 3.3], "nice": false, "zero": false}, "axis": {"orient": "bottom", "values": [2.7, 2.8, 2.9, 3, 3.1, 3.2], "title": ["time [s]", "(c)"], "labelExpr": "'' + datum.value"}},
                 "y": {"field": "k", "type": "quantitative", "scale": {"domain": [-10, 4], "nice": false, "zero": false}, "axis": {"orient": "left", "values": [-10, -5, 0], "title": "Acc [m/s²]", "labelPadding": 20, "titlePadding": -1, "titleY": 151, "labelExpr": "datum.value < 0 ? '-' + (-datum.value) : '' + datum.value"}}}},
   {"mark": {"type": "line", "color": "#ff2a2a", "strokeWidth": 2.3, "strokeDash": [9, 3], "interpolate": "monotone", "clip": true},
    "encoding": {"x": {"field": "t", "type": "quantitative", "scale": {"domain": [2.6, 3.3], "nice": false, "zero": false}, "axis": {"orient": "top", "values": [2.7, 2.8, 2.9, 3, 3.1, 3.2], "labels": false, "title": null}},
                 "y": {"field": "r", "type": "quantitative", "scale": {"domain": [-10, 4], "nice": false, "zero": false}, "axis": {"orient": "right", "values": [-10, -5, 0], "labels": false, "title": null}}}},
   {"mark": {"type": "line", "color": "#3d51ab", "strokeWidth": 2.3, "strokeDash": [9, 3], "strokeDashOffset": 6, "interpolate": "monotone", "clip": true},
    "encoding": {"x": {"field": "t", "type": "quantitative", "scale": {"domain": [2.6, 3.3], "nice": false, "zero": false}, "axis": null},
                 "y": {"field": "b", "type": "quantitative", "scale": {"domain": [-10, 4], "nice": false, "zero": false}, "axis": null}}}
  ]},
 {"width": 701, "height": 322, "data": {"name": "psd"},
  "resolve": {"axis": {"x": "independent", "y": "independent"}},
  "layer": [
   {"mark": {"type": "line", "color": "#111111", "strokeWidth": 2.2, "clip": true},
    "encoding": {"x": {"field": "f", "type": "quantitative", "scale": {"domain": [0, 512], "nice": false, "zero": false}, "axis": {"orient": "bottom", "values": [0, 100, 200, 300, 400, 500], "title": ["freq. [Hz]", "(d)"]}},
                 "y": {"field": "k", "type": "quantitative", "scale": {"type": "log", "domain": [2.75e-12, 1], "nice": false}, "axis": {"orient": "left", "values": [1, 0.1, 0.01, 0.001, 0.0001, 0.00001, 0.000001, 1e-7, 1e-8, 1e-9, 1e-10, 1e-11], "title": "PSD", "titleY": 156, "labelExpr": "datum.value == 1 ? '10⁰' : (datum.value == 0.00001 ? '10⁻⁵' : (datum.value == 1e-10 ? '10⁻¹⁰' : ''))"}}}},
   {"mark": {"type": "line", "color": "#ff2a2a", "strokeWidth": 2.3, "strokeDash": [9, 3], "clip": true},
    "encoding": {"x": {"field": "f", "type": "quantitative", "scale": {"domain": [0, 512], "nice": false, "zero": false}, "axis": {"orient": "top", "values": [0, 100, 200, 300, 400, 500], "labels": false, "title": null}},
                 "y": {"field": "r", "type": "quantitative", "scale": {"type": "log", "domain": [2.75e-12, 1], "nice": false}, "axis": {"orient": "right", "values": [1, 0.1, 0.01, 0.001, 0.0001, 0.00001, 0.000001, 1e-7, 1e-8, 1e-9, 1e-10, 1e-11], "labels": false, "title": null}}}},
   {"mark": {"type": "line", "color": "#3d51ab", "strokeWidth": 2.3, "strokeDash": [9, 3], "strokeDashOffset": 6, "clip": true},
    "encoding": {"x": {"field": "f", "type": "quantitative", "scale": {"domain": [0, 512], "nice": false, "zero": false}, "axis": null},
                 "y": {"field": "b", "type": "quantitative", "scale": {"type": "log", "domain": [2.75e-12, 1], "nice": false}, "axis": null}}}
  ]}
]
}
